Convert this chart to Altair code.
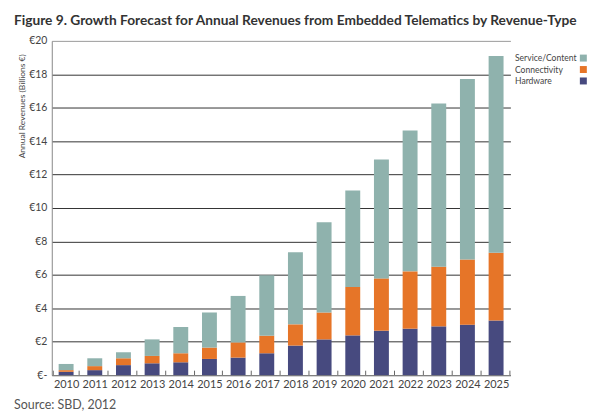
import altair as alt
import pandas as pd

years = [str(y) for y in range(2010, 2026)]
hardware = [0.20, 0.30, 0.60, 0.71, 0.77, 0.97, 1.05, 1.31, 1.77, 2.14, 2.38, 2.66, 2.78, 2.92, 3.02, 3.27]
connectivity = [0.10, 0.24, 0.41, 0.44, 0.54, 0.68, 0.91, 1.05, 1.27, 1.61, 2.90, 3.13, 3.43, 3.57, 3.90, 4.05]
service = [0.37, 0.47, 0.36, 0.99, 1.57, 2.10, 2.78, 3.61, 4.32, 5.40, 5.77, 7.11, 8.43, 9.76, 10.80, 11.78]
types = ["Service/Content", "Connectivity", "Hardware"]
colors = ["#8fb2ad", "#e67528", "#474a7f"]
y_ticks = [0, 2, 4, 6, 8, 10, 12, 14, 16, 18, 20]
title_text = "Figure 9. Growth Forecast for Annual Revenues from Embedded Telematics by Revenue-Type"
source_text = "Source: SBD, 2012"

rows = []
for i, yr in enumerate(years):
    for t, vals, o in [("Hardware", hardware, 0), ("Connectivity", connectivity, 1), ("Service/Content", service, 2)]:
        rows.append({"year": yr, "type": t, "value": vals[i], "ord": o})
df = pd.DataFrame(rows)

font = "Lato"

bars = alt.Chart(df).mark_bar(size=15).encode(
    x=alt.X("year:N", sort=years, axis=alt.Axis(
        title=None, labelAngle=0, tickBand="extent", tickSize={"expr": "-5"}, tickColor="#666",
        domainColor="#888", labelFont=font, labelFontSize=11, labelColor="#444",
        labelPadding=8)),
    y=alt.Y("value:Q", stack="zero", scale=alt.Scale(domain=[0, 20], nice=False),
            axis=alt.Axis(values=y_ticks, title="Annual Revenues (Billions €)",
                          labelExpr="datum.value == 0 ? '€-' : '€' + datum.value",
                          grid=True, gridColor={"expr": "datum.value == 20 ? '#999' : '#333'"},
                          gridWidth=1, ticks=False, domainColor="#888",
                          labelFont=font, labelFontSize=10.5, labelColor="#444", labelPadding=5,
                          titleFont=font, titleFontSize=8.5, titleFontWeight="normal",
                          titleColor="#444", titleAngle=-90, titleAlign="right",
                          titleBaseline="bottom", titleX=-25, titleY=13)),
    color=alt.Color("type:N", scale=alt.Scale(domain=types, range=colors), legend=alt.Legend(
        title=None, orient="none", legendX=530, legendY=13, symbolType="square",
        symbolSize=49, symbolStrokeWidth=0, labelAlign="left", labelOffset={"expr": "-73"},
        labelFont=font, labelFontSize=8.6, labelColor="#444", labelLimit=300,
        rowPadding=2.5, padding=0)),
    order=alt.Order("ord:Q", sort="ascending"),
)

src = alt.Chart(pd.DataFrame({"t": [source_text]})).mark_text(
    align="left", baseline="middle", font=font, fontSize=12.5, color="#555"
).encode(text="t:N", x=alt.value(-38), y=alt.value(366))

chart = alt.layer(bars, src).properties(
    width=461, height=336,
    autosize=alt.AutoSizeParams(type="none"),
    padding={"left": 44, "top": 32, "right": 82, "bottom": 38},
    title=alt.TitleParams(title_text, anchor="start", frame="group", dx=-38, offset=8,
                          font=font, fontSize=13.8, fontWeight="bold", color="#333"),
).configure_view(stroke=None)

chart.save("out.html", embed_options={"renderer": "svg", "actions": False})
